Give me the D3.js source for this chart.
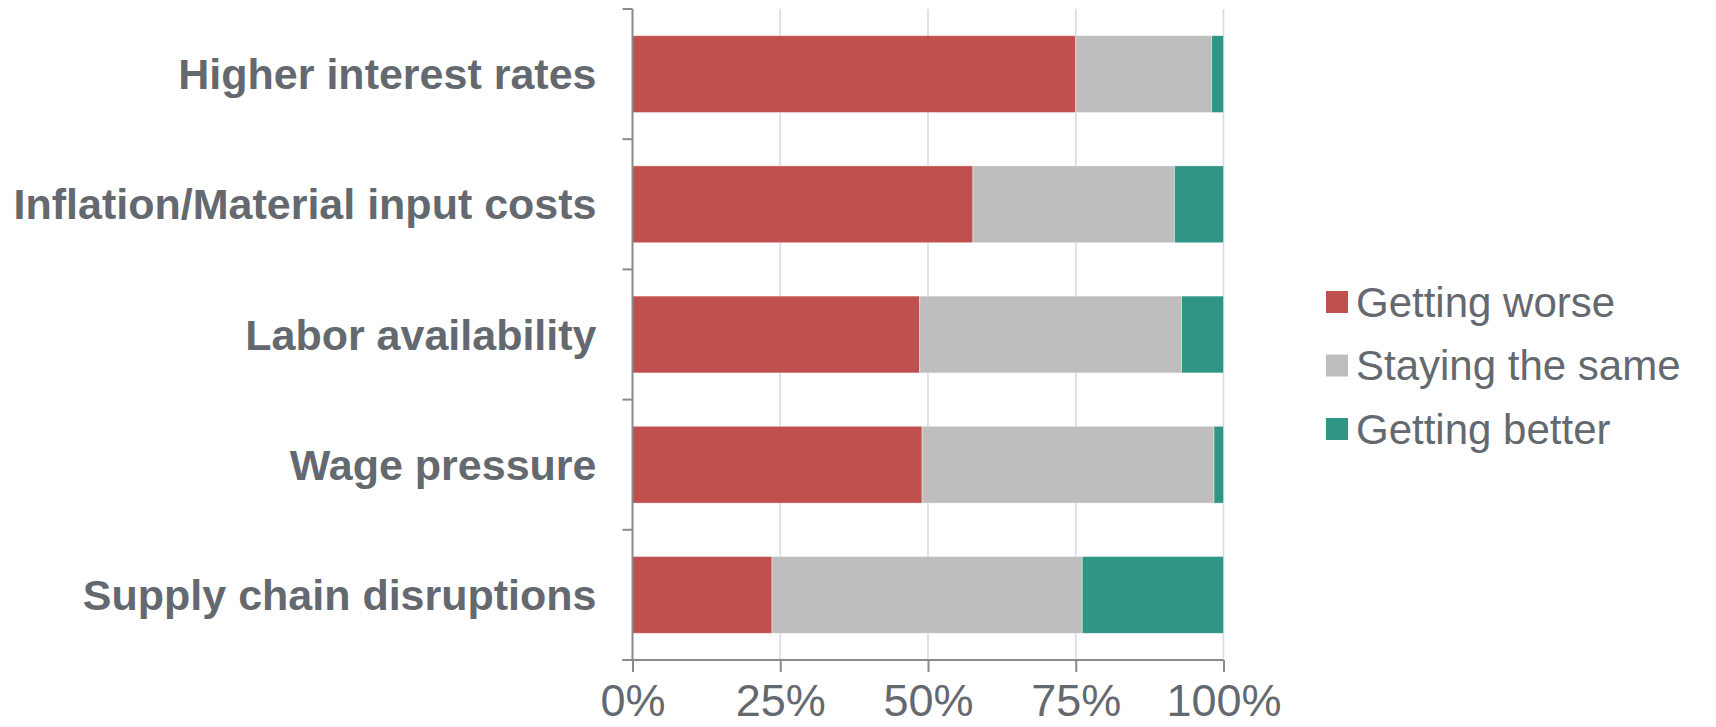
<!DOCTYPE html>
<html>
<head>
<meta charset="utf-8">
<script src="https://cdn.jsdelivr.net/npm/d3@7"></script>
<style>
  html, body { margin: 0; padding: 0; background: #ffffff; }
  svg { display: block; }
  text { font-family: "Liberation Sans", Arial, sans-serif; }
</style>
</head>
<body>
<svg id="chart" width="1716" height="727"></svg>
<script>
// Survey outlook by factor (shares of respondents, %)
const categories = [
  "Higher interest rates",
  "Inflation/Material input costs",
  "Labor availability",
  "Wage pressure",
  "Supply chain disruptions"
];
const seriesNames = ["Getting worse", "Staying the same", "Getting better"];
const gettingWorse   = [75.0, 57.6, 48.6, 49.0, 23.6];
const stayingSame    = [23.0, 34.1, 44.3, 49.4, 52.5];
const gettingBetter  = [2.0, 8.3, 7.1, 1.6, 23.9];
const xTicks = [0, 25, 50, 75, 100];
const seriesColors = ["#c0504d", "#bebebe", "#2f9585"];

const rows = categories.map((c, i) => ({
  category: c,
  "Getting worse": gettingWorse[i],
  "Staying the same": stayingSame[i],
  "Getting better": gettingBetter[i]
}));

const svg = d3.select("#chart");
const textColor = "#646970";
const axisColor = "#8a8a8a";

const x = d3.scaleLinear().domain([0, 100]).range([632.5, 1223.5]);
const y = d3.scaleBand().domain(categories).range([9, 660])
  .paddingInner(0.41).paddingOuter(0.205);
const color = d3.scaleOrdinal().domain(seriesNames).range(seriesColors);

// vertical gridlines
svg.append("g").selectAll("line").data(xTicks.filter(d => d > 0)).join("line")
  .attr("x1", d => x(d)).attr("x2", d => x(d))
  .attr("y1", 9).attr("y2", 660)
  .attr("stroke", "#cfdcef").attr("stroke-width", 1.6);

// stacked bars
const stacked = d3.stack().keys(seriesNames)(rows);
svg.append("g").selectAll("g").data(stacked).join("g")
  .attr("fill", d => color(d.key))
  .selectAll("rect").data(d => d).join("rect")
  .attr("x", d => x(d[0]))
  .attr("width", d => x(d[1]) - x(d[0]))
  .attr("y", d => y(d.data.category))
  .attr("height", y.bandwidth())
  .attr("stroke", "#ffffff").attr("stroke-opacity", 0.5).attr("stroke-width", 0.8);

// category axis (left) with ticks between bands
const step = y.step();
const boundaries = categories.map(c => y(c) - step * y.paddingInner() / 2)
  .concat([y(categories[categories.length - 1]) + y.bandwidth() + step * y.paddingInner() / 2]);
const yAxisG = svg.append("g");
yAxisG.append("line")
  .attr("x1", x(0)).attr("x2", x(0))
  .attr("y1", boundaries[0]).attr("y2", boundaries[boundaries.length - 1])
  .attr("stroke", axisColor).attr("stroke-width", 2);
yAxisG.selectAll("line.tick").data(boundaries).join("line").attr("class", "tick")
  .attr("x1", x(0) - 10).attr("x2", x(0))
  .attr("y1", d => d).attr("y2", d => d)
  .attr("stroke", axisColor).attr("stroke-width", 2);
yAxisG.selectAll("text").data(categories).join("text")
  .attr("x", x(0) - 36)
  .attr("y", d => y(d) + y.bandwidth() / 2)
  .attr("dy", "0.35em")
  .attr("text-anchor", "end")
  .attr("font-size", 43)
  .attr("font-weight", "bold")
  .attr("fill", textColor)
  .text(d => d);

// percentage axis (bottom)
const xAxis = d3.axisBottom(x).tickValues(xTicks).tickFormat(d => d + "%")
  .tickSizeInner(12).tickSizeOuter(0).tickPadding(12);
const xAxisG = svg.append("g").attr("transform", "translate(0,660)").call(xAxis);
xAxisG.select(".domain").attr("stroke", axisColor).attr("stroke-width", 2)
  .attr("d", `M${x(0) - 10},0H${x(100)}`);
xAxisG.selectAll(".tick line").attr("stroke", axisColor).attr("stroke-width", 2);
xAxisG.selectAll(".tick text")
  .attr("font-family", "'Liberation Sans', Arial, sans-serif")
  .attr("font-size", 45).attr("fill", textColor);

// legend
const legend = svg.append("g").attr("transform", "translate(1326,302)");
const items = legend.selectAll("g").data(seriesNames).join("g")
  .attr("transform", (d, i) => `translate(0,${i * 63.5})`);
items.append("rect").attr("x", 0).attr("y", -11).attr("width", 22).attr("height", 22)
  .attr("fill", d => color(d));
items.append("text").attr("x", 30).attr("y", 0).attr("dy", "0.35em")
  .attr("font-size", 42).attr("fill", textColor).text(d => d);
</script>
</body>
</html>
